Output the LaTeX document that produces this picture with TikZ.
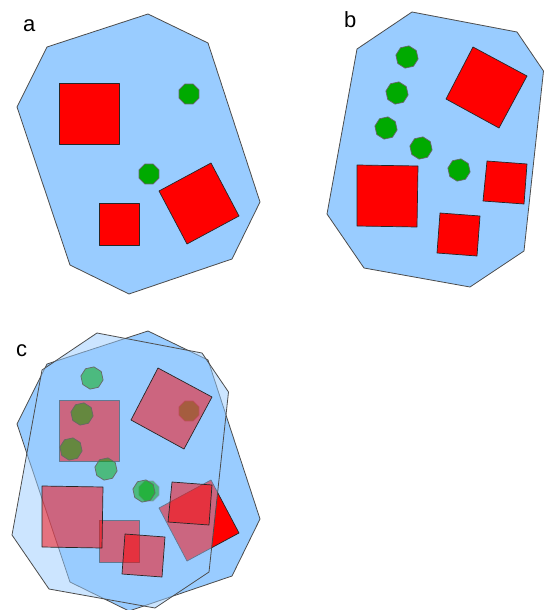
\documentclass[tikz,border=0pt]{standalone}
\usepackage{fontspec}
\setsansfont{Liberation Sans}
\definecolor{skyfill}{RGB}{153,204,255}
\definecolor{octgreen}{RGB}{0,170,0}

\begin{document}
\begin{tikzpicture}[x=1pt,y=-1pt,line join=round,
  poly/.style={draw=black!70,line width=0.8pt,fill=skyfill},
  sq/.style={draw=black!85,line width=0.7pt,fill=red},
  oct/.style={draw=black!60,line width=0.7pt,fill=octgreen},
  lbl/.style={font=\sffamily\fontsize{22}{26}\selectfont,anchor=base west,inner sep=0pt}]
  \useasboundingbox (0,0) rectangle (544,610);
  % octagon: centre x, centre y, radius, turn
  \def\octo#1#2#3#4{\draw[oct] plot[samples at={0,45,...,315}] ({#1+#3*cos(\x+#4)},{#2+#3*sin(\x+#4)}) -- cycle;}
  \def\panelA{%
    \draw[poly] (148,14) -- (208,43) -- (260,202) -- (232,259) -- (129,294) -- (70,265) -- (17,107) -- (47,47) -- cycle;
    \draw[sq] (59,83) rectangle (119,144);
    \draw[sq] (99,203) rectangle (139,245);
    \draw[sq] (211,163) -- (239,216) -- (187,244) -- (159,191) -- cycle;
    \octo{189}{94}{10.8}{22.5}
    \octo{149}{174}{10.8}{22.5}}
  \def\panelB{%
    \draw[poly] (412,12) -- (517,32) -- (543.5,71) -- (524,251) -- (470,287) -- (364,268) -- (327,214) -- (357,49) -- cycle;
    \draw[sq] (473,47) -- (527,76) -- (499,128) -- (446,99) -- cycle;
    \draw[sq] (357,165) -- (418,166) -- (417,227) -- (357,226) -- cycle;
    \draw[sq] (487,161) -- (527,164) -- (524,204) -- (483,201) -- cycle;
    \draw[sq] (440,213) -- (480,216) -- (477,256) -- (437,253) -- cycle;
    \foreach \cx/\cy in {407/57,397/93,386/128,421/148,459/170} {\octo{\cx}{\cy}{11.3}{10}}}
  % a
  \panelA
  \node[lbl] (labA) at (23,32) {a};
  % b
  \panelB
  \node[lbl] (labB) at (344,28) {b};
  % c
  \begin{scope}[shift={(0,317)}]
    \panelA
  \end{scope}
  \begin{scope}[shift={(-315,321)},fill opacity=0.5]
    \panelB
  \end{scope}
  \node[lbl] (labC) at (16,356) {c};
\end{tikzpicture}
\end{document}
